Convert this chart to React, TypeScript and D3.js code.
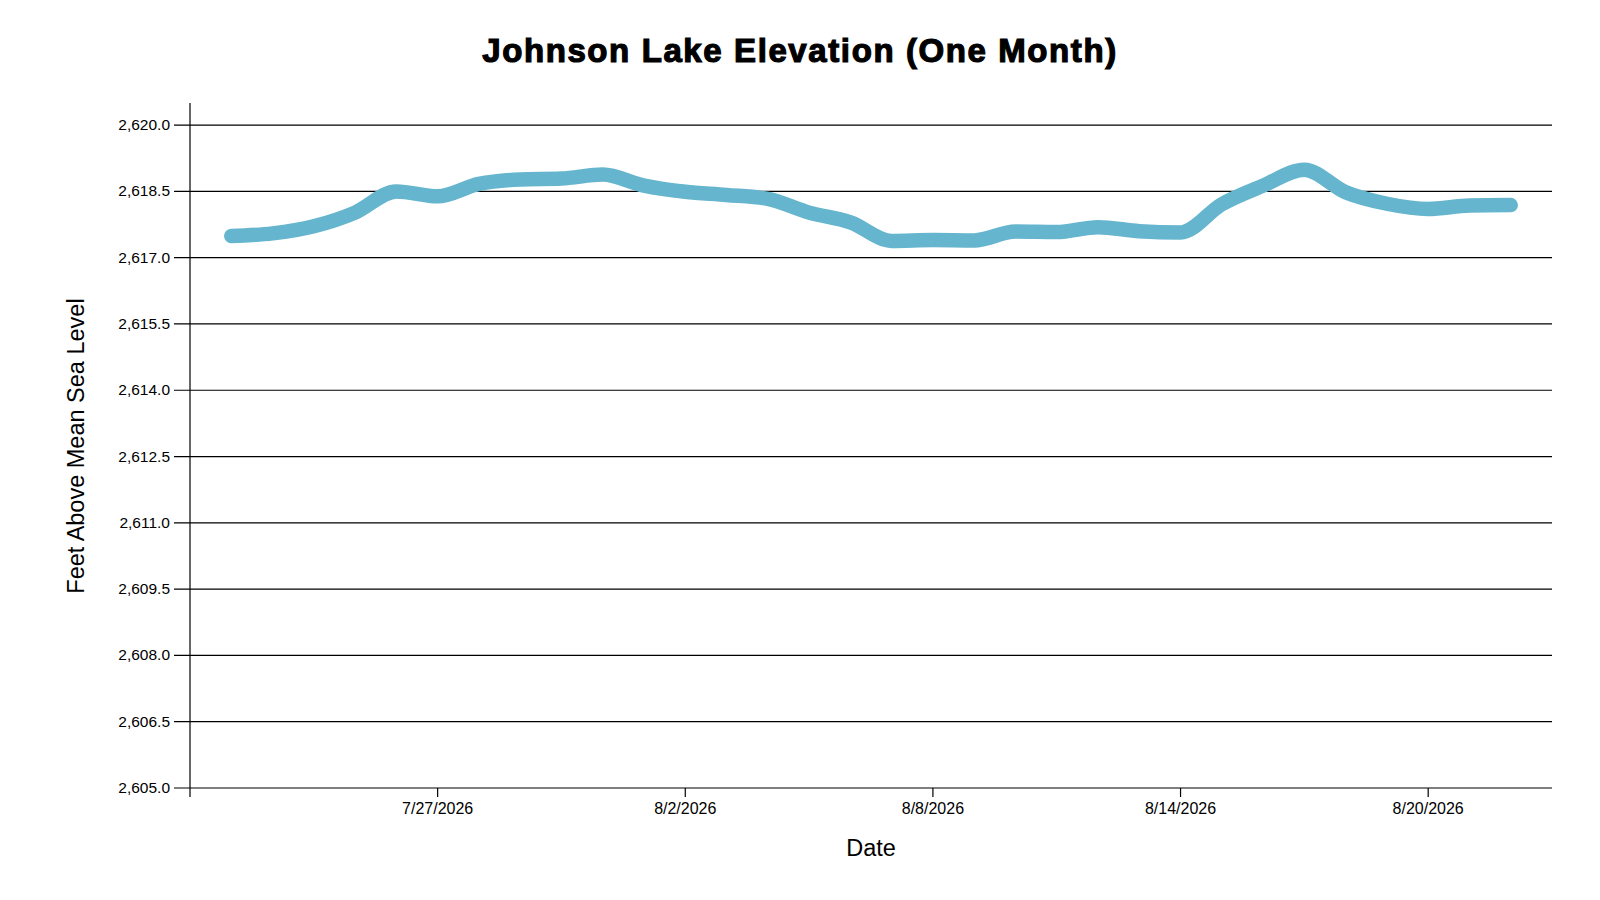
import * as d3 from 'd3';
import React from 'react';

// daily readings, feet above mean sea level
const dates = [
  '7/22/2026', '7/23/2026', '7/24/2026', '7/25/2026', '7/26/2026', '7/27/2026',
  '7/28/2026', '7/29/2026', '7/30/2026', '7/31/2026', '8/1/2026', '8/2/2026',
  '8/3/2026', '8/4/2026', '8/5/2026', '8/6/2026', '8/7/2026', '8/8/2026',
  '8/9/2026', '8/10/2026', '8/11/2026', '8/12/2026', '8/13/2026', '8/14/2026',
  '8/15/2026', '8/16/2026', '8/17/2026', '8/18/2026', '8/19/2026', '8/20/2026',
  '8/21/2026', '8/22/2026',
];
const elevation = [
  2617.49, 2617.55, 2617.71, 2618.02, 2618.5, 2618.39,
  2618.67, 2618.77, 2618.79, 2618.88, 2618.63, 2618.49,
  2618.42, 2618.33, 2618.02, 2617.8, 2617.38, 2617.4,
  2617.39, 2617.59, 2617.58, 2617.69, 2617.6, 2617.57,
  2618.21, 2618.63, 2618.99, 2618.48, 2618.22, 2618.1,
  2618.18, 2618.19,
];
const xDomain = ['7/21/2026', '8/23/2026'];
const xTicks = ['7/27/2026', '8/2/2026', '8/8/2026', '8/14/2026', '8/20/2026'];
const yDomain = [2605, 2620.5];
const yTicks = [2605, 2606.5, 2608, 2609.5, 2611, 2612.5, 2614, 2615.5, 2617, 2618.5, 2620];

const parse = d3.timeParse('%m/%d/%Y');
const font = '"Liberation Sans", Arial, sans-serif';

const App = () => {
  const width = 1600;
  const height = 900;
  const margin = { top: 103, right: 48, bottom: 112, left: 190 };
  const w = width - margin.left - margin.right;
  const h = height - margin.top - margin.bottom;

  const x = d3.scaleTime()
    .domain(xDomain.map((d) => parse(d) as Date))
    .range([0, w]);
  const y = d3.scaleLinear()
    .domain(yDomain)
    .range([h, 0]);

  const data = dates.map((d, i) => ({ date: parse(d) as Date, value: elevation[i] }));
  const line = d3.line<any>()
    .x((d) => x(d.date))
    .y((d) => y(d.value))
    .curve(d3.curveMonotoneX);

  const fmtY = d3.format(',.1f');
  const fmtX = d3.timeFormat('%-m/%-d/%Y');

  return (
    <svg width={width} height={height} style={{ position: 'absolute', left: 0, top: 0 }} fontFamily={font}>
      <text x={800} y={62} textAnchor="middle" fontSize={33} fontWeight="bold"
        letterSpacing={1.6} stroke="#000" strokeWidth={1.2} fill="#000">
        Johnson Lake Elevation (One Month)
      </text>
      <g transform={`translate(${margin.left},${margin.top})`}>
        {/* y gridlines and labels */}
        {yTicks.map((t) => (
          <g key={t} transform={`translate(0,${y(t)})`}>
            <line x1={-16} x2={w} stroke="#000" strokeWidth={1.2} />
            <text x={-20} dy="0.32em" textAnchor="end" fontSize={15.5} fill="#000">{fmtY(t)}</text>
          </g>
        ))}
        {/* y axis line */}
        <line x1={0} x2={0} y1={0} y2={h + 9} stroke="#000" strokeWidth={1.2} />
        {/* x ticks */}
        {xTicks.map((t) => {
          const d = parse(t) as Date;
          return (
            <g key={t} transform={`translate(${x(d)},${h})`}>
              <line y1={0} y2={9} stroke="#000" strokeWidth={1.2} />
              <text y={26} textAnchor="middle" fontSize={16} fill="#000">{fmtX(d)}</text>
            </g>
          );
        })}
        <path d={line(data) || ''} fill="none" stroke="#64b5cd" strokeWidth={14.5}
          strokeLinecap="round" strokeLinejoin="round" />
        <text x={w / 2} y={h + 68} textAnchor="middle" fontSize={23.5} fill="#000">Date</text>
      </g>
      <text transform="translate(84,446) rotate(-90)" textAnchor="middle" fontSize={23.5} fill="#000">
        Feet Above Mean Sea Level
      </text>
    </svg>
  );
};

export default App;
